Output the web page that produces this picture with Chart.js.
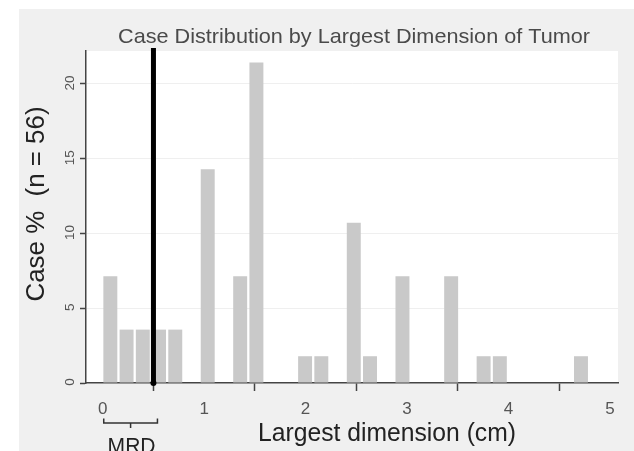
<!DOCTYPE html>
<html>
<head>
<meta charset="utf-8">
<script src="https://cdn.jsdelivr.net/npm/chart.js@4/dist/chart.umd.min.js"></script>
<style>
  html, body { margin: 0; padding: 0; background: #fff; }
  #wrap { width: 634px; height: 451px; position: relative; }
</style>
</head>
<body>
<div id="wrap"><canvas id="c" width="634" height="451"></canvas></div>
<script>
// Histogram bins (centre of each 0.16 cm bin) and share of cases in each bin
const binCenters = [0.075, 0.235, 0.395, 0.555, 0.715, 1.035, 1.355, 1.515, 1.995, 2.155, 2.475, 2.635, 2.955, 3.435, 3.755, 3.915, 4.715];
const casePercent = [7.14, 3.57, 3.57, 3.57, 3.57, 14.29, 7.14, 21.43, 1.79, 1.79, 10.71, 1.79, 7.14, 7.14, 1.79, 1.79, 1.79];
const xTicks = [0, 1, 2, 3, 4, 5];
const yTicks = [0, 5, 10, 15, 20];
const mrdCutoff = 0.5;

const chartTitle = 'Case Distribution by Largest Dimension of Tumor';
const yTitle = 'Case %  (n = 56)';
const xTitle = 'Largest dimension (cm)';
const bracketLabel = 'MRD';

// draw text squeezed/stretched horizontally to a given width
function fitText(ctx, text, x, y, font, color, width) {
  ctx.save();
  ctx.font = font;
  ctx.fillStyle = color;
  ctx.textAlign = 'center';
  ctx.textBaseline = 'alphabetic';
  const w = ctx.measureText(text).width;
  ctx.translate(x, y);
  ctx.scale(width / w, 1);
  ctx.fillText(text, 0, 0);
  ctx.restore();
}

const decorations = {
  id: 'decorations',
  beforeDraw(chart) {
    const { ctx, chartArea: a } = chart;
    ctx.save();
    ctx.fillStyle = '#ffffff';
    ctx.fillRect(0, 0, chart.width, chart.height);
    ctx.fillStyle = '#f0f0f0';
    ctx.fillRect(19, 9, chart.width - 19, chart.height - 9);
    ctx.fillStyle = '#ffffff';
    ctx.fillRect(a.left, a.top, a.right - a.left, a.bottom - a.top);
    ctx.restore();
  },
  afterDraw(chart) {
    const { ctx, scales } = chart;
    const x = scales.x, y = scales.y;

    // title
    fitText(ctx, chartTitle, 354, 43, '21px "Liberation Sans", Arial, sans-serif', '#4a4a4a', 472);

    // y tick labels, rotated
    ctx.save();
    ctx.font = '13.5px "Liberation Sans", Arial, sans-serif';
    ctx.fillStyle = '#555';
    ctx.textAlign = 'center';
    ctx.textBaseline = 'middle';
    yTicks.forEach(v => {
      ctx.save();
      ctx.translate(70, y.getPixelForValue(v) - 1);
      ctx.rotate(-Math.PI / 2);
      ctx.fillText(String(v), 0, 0);
      ctx.restore();
    });
    ctx.restore();

    // y title, rotated
    ctx.save();
    ctx.translate(44, 204);
    ctx.rotate(-Math.PI / 2);
    fitText(ctx, yTitle, 0, 0, '26px "Liberation Sans", Arial, sans-serif', '#222', 195);
    ctx.restore();

    // x title
    fitText(ctx, xTitle, 387, 441, '25px "Liberation Sans", Arial, sans-serif', '#222', 258);

    // bracket below the axis spanning 0 .. cutoff
    const bx0 = x.getPixelForValue(0) + 1;
    const bx1 = x.getPixelForValue(mrdCutoff) + 4;
    const bm = (bx0 + bx1) / 2;
    ctx.save();
    ctx.strokeStyle = '#333';
    ctx.lineWidth = 1.5;
    ctx.beginPath();
    ctx.moveTo(bx0, 418.5);
    ctx.lineTo(bx0, 423);
    ctx.lineTo(bx1, 423);
    ctx.lineTo(bx1, 418.5);
    ctx.moveTo(bm, 423);
    ctx.lineTo(bm, 428);
    ctx.stroke();
    ctx.restore();
    fitText(ctx, bracketLabel, bm + 1, 453, '22px "Liberation Sans", Arial, sans-serif', '#222', 48);
  }
};

new Chart(document.getElementById('c'), {
  type: 'bar',
  data: {
    datasets: [
      {
        type: 'line',
        data: [{ x: mrdCutoff, y: 0 }, { x: mrdCutoff, y: 22.4 }],
        borderColor: '#000',
        borderWidth: 5,
        pointRadius: [3, 0],
        pointBackgroundColor: '#000',
        pointBorderWidth: 0,
        clip: false,
        order: 0
      },
      {
        type: 'bar',
        data: binCenters.map((c, i) => ({ x: c, y: casePercent[i] })),
        backgroundColor: '#c9c9c9',
        borderWidth: 0,
        categoryPercentage: 1,
        barPercentage: 0.86,
        order: 1
      }
    ]
  },
  options: {
    responsive: false,
    devicePixelRatio: 1,
    animation: false,
    layout: { padding: { left: 0, top: 51, right: 16, bottom: 0 } },
    plugins: { legend: { display: false }, title: { display: false }, tooltip: { enabled: false } },
    scales: {
      x: {
        type: 'linear',
        offset: false,
        min: -0.165,
        max: 5.08,
        afterBuildTicks: s => { s.ticks = xTicks.map(v => ({ value: v })); },
        afterFit: s => { s.height = 68; },
        ticks: {
          color: '#555',
          font: { family: '"Liberation Sans", Arial, sans-serif', size: 17 },
          padding: 8,
          maxRotation: 0,
          callback: v => String(v)
        },
        grid: { drawOnChartArea: false, tickLength: 8, tickColor: '#444', tickWidth: 1.5 },
        border: { color: '#444', width: 1.5 }
      },
      y: {
        type: 'linear',
        min: 0,
        max: 22.2,
        afterBuildTicks: s => { s.ticks = yTicks.map(v => ({ value: v })); },
        afterFit: s => { s.width = 86; },
        ticks: { display: false },
        grid: {
          color: c => (c.tick && c.tick.value === 0 ? 'rgba(0,0,0,0)' : '#efefef'),
          tickLength: 6,
          tickColor: '#444',
          tickWidth: 1.5
        },
        border: { color: '#444', width: 1.5 }
      }
    }
  },
  plugins: [decorations]
});
</script>
</body>
</html>
